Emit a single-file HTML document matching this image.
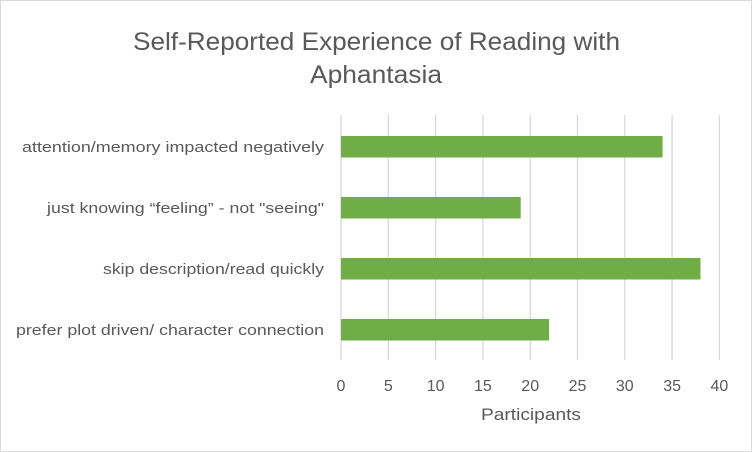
<!DOCTYPE html>
<html><head><style>
body{margin:0;background:#fff;}
</style></head><body>
<svg width="752" height="452" xmlns="http://www.w3.org/2000/svg" style="display:block;font-family:'Liberation Sans',sans-serif">
<rect x="0.5" y="0.5" width="751" height="451" fill="#fff" stroke="#d9d9d9"/>
<text x="133" y="50" font-size="25" fill="#595959" textLength="487" lengthAdjust="spacingAndGlyphs">Self-Reported Experience of Reading with</text>
<text x="310" y="83" font-size="25" fill="#595959" textLength="132" lengthAdjust="spacingAndGlyphs">Aphantasia</text>
<g stroke="#d9d9d9" stroke-width="1.3">
<line x1="341" y1="115" x2="341" y2="360"/>
<line x1="388.3" y1="115" x2="388.3" y2="360"/>
<line x1="435.6" y1="115" x2="435.6" y2="360"/>
<line x1="482.9" y1="115" x2="482.9" y2="360"/>
<line x1="530.2" y1="115" x2="530.2" y2="360"/>
<line x1="577.5" y1="115" x2="577.5" y2="360"/>
<line x1="624.8" y1="115" x2="624.8" y2="360"/>
<line x1="672.1" y1="115" x2="672.1" y2="360"/>
<line x1="719.4" y1="115" x2="719.4" y2="360"/>
</g>
<g fill="#70ad47">
<rect x="341" y="136" width="321.6" height="21.5"/>
<rect x="341" y="197" width="179.7" height="21.5"/>
<rect x="341" y="258" width="359.5" height="21.5"/>
<rect x="341" y="319" width="208.1" height="21.5"/>
</g>
<g font-size="15" fill="#595959" lengthAdjust="spacingAndGlyphs">
<text x="22" y="152" textLength="302" lengthAdjust="spacingAndGlyphs">attention/memory impacted negatively</text>
<text x="47" y="213" textLength="277" lengthAdjust="spacingAndGlyphs">just knowing “feeling” - not "seeing"</text>
<text x="103" y="274" textLength="221" lengthAdjust="spacingAndGlyphs">skip description/read quickly</text>
<text x="16" y="335" textLength="308" lengthAdjust="spacingAndGlyphs">prefer plot driven/ character connection</text>
</g>
<g font-size="16" fill="#595959" text-anchor="middle">
<text x="341" y="391">0</text>
<text x="388.3" y="391">5</text>
<text x="435.6" y="391">10</text>
<text x="482.9" y="391">15</text>
<text x="530.2" y="391">20</text>
<text x="577.5" y="391">25</text>
<text x="624.8" y="391">30</text>
<text x="672.1" y="391">35</text>
<text x="719.4" y="391">40</text>
</g>
<text x="481" y="420" font-size="17" fill="#595959" textLength="100" lengthAdjust="spacingAndGlyphs">Participants</text>
</svg>
</body></html>
